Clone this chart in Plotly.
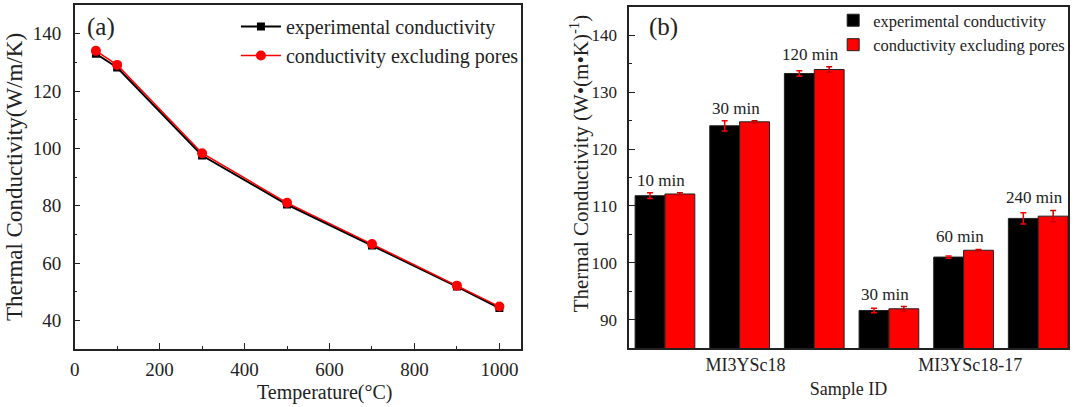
import plotly.graph_objects as go

# ---- data panel (a)
temps = [50, 100, 300, 500, 700, 900, 1000]
k_exp = [133.0, 128.2, 97.5, 80.4, 66.1, 51.8, 44.3]
k_nopore = [134.0, 129.1, 98.3, 81.0, 66.6, 52.1, 44.8]

# ---- data panel (b)
bar_pos = [0, 1, 2, 3, 4, 5]
bar_labels = ["10 min", "30 min", "120 min", "30 min", "60 min", "240 min"]
b_exp = [111.8, 124.1, 133.3, 91.6, 101.0, 107.8]
b_exp_err = [0.5, 0.9, 0.5, 0.4, 0.2, 1.0]
b_nop = [112.1, 124.8, 134.0, 91.9, 102.2, 108.2]
b_nop_err = [0.2, 0.2, 0.5, 0.4, 0.15, 1.0]
group_ticks = [1.08, 4.09]
group_names = ["MI3YSc18", "MI3YSc18-17"]

FONT = "Liberation Serif, Times New Roman, serif"
W, H = 1090, 407
INK = "#222"

fig = go.Figure()

fig.add_trace(go.Scatter(
    x=temps, y=k_exp, mode="lines+markers", name="experimental conductivity",
    line=dict(color="black", width=2), marker=dict(symbol="square", size=8, color="black"),
    xaxis="x", yaxis="y", legend="legend"))
fig.add_trace(go.Scatter(
    x=temps, y=k_nopore, mode="lines+markers", name="conductivity excluding pores",
    line=dict(color="#ff0000", width=1.5), marker=dict(symbol="circle", size=10, color="#ff0000"),
    xaxis="x", yaxis="y", legend="legend"))

fig.add_trace(go.Bar(
    x=bar_pos, y=b_exp, name="experimental conductivity",
    marker=dict(color="black", line=dict(color=INK, width=1)),
    error_y=dict(type="data", array=b_exp_err, color="#ff0000", thickness=1.5, width=3),
    xaxis="x2", yaxis="y2", legend="legend2"))
fig.add_trace(go.Bar(
    x=bar_pos, y=b_nop, name="conductivity excluding pores",
    marker=dict(color="#ff0000", line=dict(color=INK, width=1)),
    error_y=dict(type="data", array=b_nop_err, color="#cc0000", thickness=1.5, width=3),
    xaxis="x2", yaxis="y2", legend="legend2"))


def ax(size, standoff):
    return dict(showline=True, linecolor=INK, linewidth=1.5, mirror=True,
                showgrid=False, zeroline=False, ticks="inside", ticklen=6,
                tickcolor=INK, tickwidth=1.2, ticklabelstandoff=standoff,
                tickfont=dict(family=FONT, size=size, color=INK))


xd1 = [70 / W, 518 / W]
yd1 = [1 - 349 / H, 1 - 5 / H]
xd2 = [627 / W, 1068 / W]
yd2 = [1 - 348 / H, 1 - 7 / H]

fig.update_layout(
    width=W, height=H, margin=dict(l=0, r=0, t=0, b=0),
    paper_bgcolor="white", plot_bgcolor="white",
    font=dict(family=FONT, color=INK),
    barmode="group", bargap=0.2, bargroupgap=0,
    xaxis=dict(domain=xd1, anchor="y", range=[0, 1050], tickvals=[0, 200, 400, 600, 800, 1000],
               minor=dict(ticks="inside", ticklen=3, dtick=100, tickcolor=INK),
               **ax(19, 2)),
    yaxis=dict(domain=yd1, anchor="x", range=[30, 150], tickvals=[40, 60, 80, 100, 120, 140],
               minor=dict(ticks="inside", ticklen=3, dtick=10, tickcolor=INK),
               title=dict(text="Thermal Conductivity(W/m/K)", font=dict(family=FONT, size=23), standoff=4),
               **ax(19, 8)),
    xaxis2=dict(domain=xd2, anchor="y2", range=[-0.48, 5.4], tickvals=group_ticks, ticktext=group_names,
                showline=True, linecolor=INK, linewidth=1.5, mirror=True, showgrid=False,
                zeroline=False, ticks="",
                tickfont=dict(family=FONT, size=18, color=INK),
                title=dict(text="Sample ID", font=dict(family=FONT, size=18), standoff=8)),
    yaxis2=dict(domain=yd2, anchor="x2", range=[85, 145], tickvals=[90, 100, 110, 120, 130, 140],
                minor=dict(ticks="inside", ticklen=3, dtick=5, tickcolor=INK),
                **ax(17, 7)),
    legend=dict(x=232 / W, y=1 - 7 / H, xanchor="left", yanchor="top",
                bgcolor="rgba(0,0,0,0)", font=dict(family=FONT, size=20, color=INK),
                itemwidth=40, tracegroupgap=0),
    legend2=dict(x=832 / W, y=1 - 3 / H, xanchor="left", yanchor="top",
                 bgcolor="rgba(0,0,0,0)", font=dict(family=FONT, size=16.5, color=INK),
                 itemwidth=30, tracegroupgap=0),
)

# x title of panel (a), placed like the reference (slightly right of centre)
fig.add_annotation(text="Temperature(\u00b0C)", x=321 / W, y=1 - 392 / H, xref="paper", yref="paper",
                   xanchor="center", yanchor="middle", showarrow=False,
                   font=dict(family=FONT, size=20, color=INK))

# y title of panel (b), placed like the reference (slightly above centre)
fig.add_annotation(text="Thermal Conductivity (W\u2022(m\u2022K)<sup>-1</sup>)",
                   x=578 / W, y=1 - 163 / H, xref="paper", yref="paper",
                   xanchor="center", yanchor="middle", textangle=-90, showarrow=False,
                   font=dict(family=FONT, size=21, color=INK))

# panel labels
fig.add_annotation(text="(a)", x=80 / W, y=1 - 27 / H, xref="paper", yref="paper",
                   xanchor="left", yanchor="middle", showarrow=False,
                   font=dict(family=FONT, size=25, color=INK))
fig.add_annotation(text="(b)", x=645 / W, y=1 - 27 / H, xref="paper", yref="paper",
                   xanchor="left", yanchor="middle", showarrow=False,
                   font=dict(family=FONT, size=25, color=INK))

# time labels above the bar groups
for p, lab, a, ea, b, eb in zip(bar_pos, bar_labels, b_exp, b_exp_err, b_nop, b_nop_err):
    top = max(a + ea, b + eb)
    fig.add_annotation(text=lab, x=p, y=top, xref="x2", yref="y2", yanchor="bottom",
                       xshift=-4, yshift=1, showarrow=False,
                       font=dict(family=FONT, size=17, color=INK))

fig.write_html("out.html")
